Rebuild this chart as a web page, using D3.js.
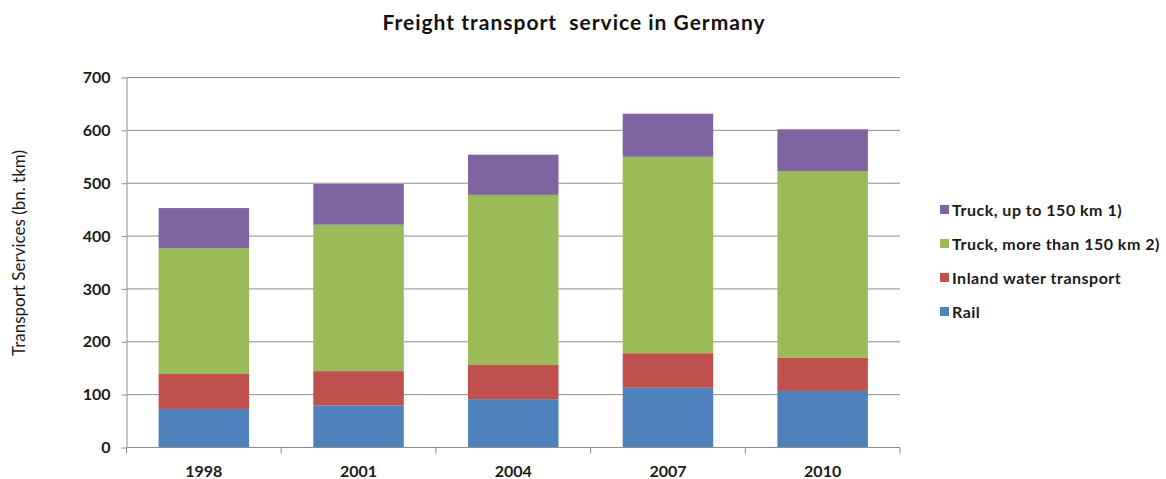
<!DOCTYPE html>
<html>
<head>
<meta charset="utf-8">
<script src="https://cdn.jsdelivr.net/npm/d3@7"></script>
<style>
  html, body { margin: 0; padding: 0; background: #fff; }
  svg { display: block; font-family: Lato, "Open Sans", sans-serif; }
</style>
</head>
<body>
<svg id="chart" width="1166" height="479"></svg>
<script>
// Freight transport performance in Germany, billion tonne-km
const years = ["1998", "2001", "2004", "2007", "2010"];
const rail = [73, 79.5, 91.5, 113, 107];
const inlandWater = [66, 65, 64.5, 65.5, 63];
const truckLong = [238, 277, 322, 371.5, 353];
const truckShort = [76, 77, 76, 81.5, 79];
const yTicks = [0, 100, 200, 300, 400, 500, 600, 700];

const seriesNames = ["Rail", "Inland water transport", "Truck, more than 150 km 2)", "Truck, up to 150 km 1)"];
const seriesColors = ["#4F81BD", "#C0504D", "#9BBB59", "#8064A2"];

const rows = years.map((y, i) => ({
  year: y,
  "Rail": rail[i],
  "Inland water transport": inlandWater[i],
  "Truck, more than 150 km 2)": truckLong[i],
  "Truck, up to 150 km 1)": truckShort[i]
}));

const svg = d3.select("#chart");
const plotLeft = 126.5, plotRight = 900, plotTop = 77.5, plotBottom = 447.5;

const x = d3.scaleBand().domain(years).range([plotLeft, plotRight]).paddingInner(0.415).paddingOuter(0.2075);
const y = d3.scaleLinear().domain([0, 700]).range([plotBottom, plotTop]);
const color = d3.scaleOrdinal().domain(seriesNames).range(seriesColors);

// horizontal gridlines
svg.append("g")
  .selectAll("line")
  .data(yTicks.filter(t => t > 0))
  .join("line")
  .attr("x1", plotLeft).attr("x2", plotRight)
  .attr("y1", d => y(d)).attr("y2", d => y(d))
  .attr("stroke", "#8c8c8c").attr("stroke-width", 1);

// stacked bars
const stacked = d3.stack().keys(seriesNames)(rows);
svg.append("g")
  .selectAll("g")
  .data(stacked)
  .join("g")
  .attr("fill", d => color(d.key))
  .selectAll("rect")
  .data(d => d)
  .join("rect")
  .attr("x", d => x(d.data.year))
  .attr("width", x.bandwidth())
  .attr("y", d => y(d[1]))
  .attr("height", d => y(d[0]) - y(d[1]));

// y axis
const yAxis = svg.append("g")
  .attr("transform", `translate(${plotLeft},0)`)
  .call(d3.axisLeft(y).tickValues(yTicks).tickSize(5).tickPadding(11).tickSizeOuter(0));
yAxis.select(".domain").attr("stroke", "#8c8c8c");
yAxis.selectAll(".tick line").attr("stroke", "#8c8c8c");
yAxis.selectAll("text")
  .attr("font-family", "Lato, sans-serif")
  .attr("font-size", 16).attr("font-weight", 700).attr("fill", "#1a1a1a");

// x axis with boundary ticks between categories
const xAxisG = svg.append("g").attr("transform", `translate(0,${plotBottom})`);
xAxisG.append("line")
  .attr("x1", plotLeft).attr("x2", plotRight)
  .attr("stroke", "#8c8c8c");
const step = x.step();
const bounds = d3.range(years.length + 1).map(i => plotLeft + i * step);
xAxisG.selectAll("line.bound")
  .data(bounds)
  .join("line")
  .attr("class", "bound")
  .attr("x1", d => d).attr("x2", d => d)
  .attr("y1", 0).attr("y2", 6)
  .attr("stroke", "#8c8c8c");
xAxisG.selectAll("text")
  .data(years)
  .join("text")
  .attr("x", d => x(d) + x.bandwidth() / 2)
  .attr("y", 29)
  .attr("text-anchor", "middle")
  .attr("font-size", 16).attr("font-weight", 700).attr("fill", "#1a1a1a")
  .text(d => d);

// axis title
svg.append("text")
  .attr("transform", "translate(25,253) rotate(-90)")
  .attr("text-anchor", "middle")
  .attr("font-size", 17).attr("fill", "#1a1a1a")
  .text("Transport Services (bn. tkm)");

// chart title
svg.append("text")
  .attr("x", 574).attr("y", 30)
  .attr("text-anchor", "middle")
  .attr("font-size", 21).attr("font-weight", 700).attr("fill", "#111")
  .attr("letter-spacing", 1)
  .style("white-space", "pre")
  .text("Freight transport  service in Germany");

// legend, top entry is the top of the stack
const legendItems = seriesNames.slice().reverse();
const legend = svg.append("g").attr("transform", "translate(940,0)");
const legendY = d3.scalePoint().domain(legendItems).range([210, 312]);
const li = legend.selectAll("g")
  .data(legendItems)
  .join("g")
  .attr("transform", d => `translate(0,${legendY(d)})`);
li.append("rect")
  .attr("x", 0).attr("y", -5).attr("width", 9).attr("height", 9)
  .attr("fill", d => color(d));
li.append("text")
  .attr("x", 12).attr("y", 0).attr("dy", "0.35em")
  .attr("font-size", 16).attr("font-weight", 700).attr("fill", "#1a1a1a")
  .attr("letter-spacing", 0.5)
  .text(d => d);
</script>
</body>
</html>
